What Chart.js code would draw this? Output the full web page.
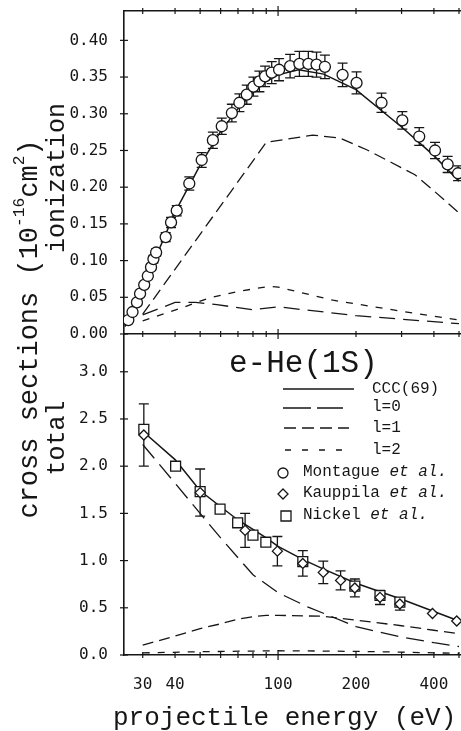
<!DOCTYPE html>
<html><head><meta charset="utf-8">
<script src="https://cdn.jsdelivr.net/npm/chart.js@4.4.1/dist/chart.umd.min.js"></script>
<style>
html,body{margin:0;padding:0;background:#fff;}
#wrap{position:relative;width:461px;height:731px;overflow:hidden;background:#fff;}
canvas{position:absolute;left:0;}
#cTop{top:0;}
#cBot{top:330px;}
.t{position:absolute;font-family:"Liberation Mono",monospace;color:#161616;white-space:nowrap;line-height:1;}
.rot{transform:translate(-50%,-50%) rotate(-90deg);}
.leg{font-size:16px;}
sup{font-size:60%;vertical-align:0.75em;line-height:0;}
</style></head>
<body><div id="wrap">
<canvas id="cTop" width="461" height="345"></canvas>
<canvas id="cBot" width="461" height="401"></canvas>
<div class="t rot" style="left:30px;top:329px;font-size:27px;">cross sections (10<sup>-16</sup>cm<sup>2</sup>)</div>
<div class="t rot" style="left:57px;top:178px;font-size:25px;">ionization</div>
<div class="t rot" style="left:57px;top:438px;font-size:25px;">total</div>
<div class="t" style="left:113px;top:705px;font-size:26px;">projectile energy (eV)</div>
<div class="t" style="left:229px;top:348px;font-size:31px;">e-He(1S)</div>
<div class="t leg" style="left:372px;top:381px;">CCC(69)</div>
<div class="t leg" style="left:372px;top:399px;">l=0</div>
<div class="t leg" style="left:372px;top:420px;">l=1</div>
<div class="t leg" style="left:372px;top:442px;">l=2</div>
<div class="t leg" style="left:303px;top:464px;">Montague <i>et al.</i></div>
<div class="t leg" style="left:303px;top:485px;">Kauppila <i>et al.</i></div>
<div class="t leg" style="left:303px;top:507px;">Nickel <i>et al.</i></div>
</div>
<script>
// ---------- tick values / labels ----------
const energyTicks = [30,40,50,60,70,80,90,100,200,300,400,500];
const energyLabels = [30,40,100,200,400];
const ionTicks = [0,0.05,0.10,0.15,0.20,0.25,0.30,0.35,0.40];
const ionTickLabels = ['0.00','0.05','0.10','0.15','0.20','0.25','0.30','0.35','0.40'];
const totTicks = [0,0.5,1.0,1.5,2.0,2.5,3.0];
const totTickLabels = ['0.0','0.5','1.0','1.5','2.0','2.5','3.0'];

// ---------- ionization panel ----------
const ionMontE = [26.4,27.4,28.5,29.3,30.4,31.4,32.3,33.0,33.8,36.8,38.6,40.6,45.4,50.7,56.0,60.6,66.3,70.9,75.7,80.3,84.7,89.1,94.5,100.9,111.3,120.9,130.9,140.8,151.7,177.5,201,251,302,351,404,452,496];
const ionMontV = [0.019,0.030,0.043,0.055,0.067,0.079,0.091,0.102,0.111,0.132,0.152,0.168,0.205,0.237,0.264,0.283,0.301,0.315,0.326,0.337,0.344,0.351,0.356,0.360,0.365,0.368,0.368,0.367,0.364,0.353,0.342,0.315,0.291,0.269,0.250,0.231,0.219];
const ionMontErr = [0.002,0.002,0.002,0.003,0.003,0.004,0.004,0.005,0.005,0.006,0.007,0.007,0.009,0.010,0.011,0.011,0.012,0.012,0.013,0.013,0.014,0.014,0.015,0.015,0.016,0.017,0.017,0.017,0.016,0.016,0.015,0.013,0.012,0.012,0.011,0.011,0.010];
const ionCccE = [25.6,30,40,50,60,70,80,90,100,120,150,200,300,400,500];
const ionCccV = [0.010,0.063,0.166,0.230,0.276,0.307,0.329,0.344,0.353,0.360,0.354,0.333,0.282,0.243,0.208];
const ionL0E = [30,40,48,58,80,100,200,500];
const ionL0V = [0.026,0.043,0.043,0.040,0.033,0.037,0.025,0.014];
const ionL1E = [30,90,136,173,220,338,400,500];
const ionL1V = [0.027,0.261,0.271,0.267,0.251,0.217,0.195,0.165];
const ionL2E = [30,42,54,70,93,100,163,300,500];
const ionL2V = [0.018,0.035,0.049,0.058,0.065,0.064,0.046,0.031,0.019];

// ---------- total panel ----------
const totCccE = [30,40,50,60,70,80,90,100,125,150,200,300,400,500];
const totCccV = [2.37,2.07,1.74,1.57,1.43,1.33,1.24,1.15,1.01,0.91,0.76,0.59,0.46,0.36];
const totL0E = [30,40,50,60,80,100,130,160,200,300,400,500];
const totL0V = [2.23,1.82,1.50,1.24,0.85,0.66,0.51,0.41,0.30,0.19,0.13,0.09];
const totL1E = [30,40,50,60,70,80,90,100,150,200,300,400,500];
const totL1V = [0.105,0.20,0.28,0.33,0.38,0.405,0.42,0.42,0.41,0.37,0.31,0.262,0.225];
const totL2E = [30,50,100,150,200,300,500];
const totL2V = [0.022,0.035,0.045,0.042,0.038,0.030,0.018];
const kaupE = [30.3,50,74.6,99.4,124.6,149.5,174.4,198,247.6,295.5,395,490];
const kaupV = [2.33,1.72,1.32,1.10,0.97,0.875,0.79,0.71,0.61,0.54,0.44,0.36];
const kaupErr = [0.33,0.25,0.18,0.155,0.135,0.12,0.10,0.095,0.075,0.065,0,0];
const nickE = [30.3,40.2,50,59.7,69.8,80,89.7,124.6,198,247.6,295.5];
const nickV = [2.39,2.00,1.73,1.545,1.40,1.27,1.195,0.99,0.73,0.63,0.56];

const X_MIN = 25.4, X_MAX = 509;
const INK = '#161616';
const pts = (xs, ys) => xs.map((x, i) => ({x, y: ys[i]}));
const noPad = s => { s.paddingTop = 0; s.paddingBottom = 0; s.paddingLeft = 0; s.paddingRight = 0; };

function curve(xs, ys, dash, w) {
  return {type:'line', data: pts(xs, ys), borderColor: INK, borderWidth: w || 1.3,
    borderDash: dash || [], pointRadius: 0, tension: 0, fill: false, order: 5};
}
function markers(xs, ys, style, r, errs) {
  return {type:'line', showLine:false, data: pts(xs, ys), pointStyle: style, pointRadius: r,
    pointBackgroundColor:'#fff', pointBorderColor: INK, pointBorderWidth: 1.3, errors: errs, order: 1};
}

function xAxis(labels, pos, h) {
  return {type:'logarithmic', min: X_MIN, max: X_MAX, position: pos,
    grid:{display:false, drawTicks:false},
    border:{display:true, color: INK, width:1.6},
    afterBuildTicks: s => { s.ticks = energyTicks.map(v => ({value: v})); },
    ticks:{display: labels, autoSkip:false, maxRotation:0, padding:20, color: INK,
      font:{family:'DejaVu Sans Mono', size:16},
      callback: v => energyLabels.includes(v) ? String(v) : ''},
    afterFit: s => { s.height = h; noPad(s); }};
}
function yAxis(max, ticks, labels) {
  return {type:'linear', min:0, max: max, position:'left',
    grid:{display:false, drawTicks:false},
    border:{display:true, color: INK, width:1.6},
    afterBuildTicks: s => { s.ticks = ticks.map(v => ({value: v})); },
    ticks:{padding:16, color: INK, font:{family:'DejaVu Sans Mono', size:16},
      callback: (v, i) => labels[i]},
    afterFit: s => { s.width = 124; noPad(s); }};
}

const tickMarks = {
  id:'tickMarks',
  afterDraw(chart, args, opts) {
    const ctx = chart.ctx, a = chart.chartArea;
    ctx.save(); ctx.strokeStyle = INK; ctx.lineWidth = 1.2;
    const xs = chart.scales.x;
    energyTicks.forEach(v => {
      const px = xs.getPixelForValue(v); const L = v === 100 ? 5 : 3;
      opts.edges.forEach(e => { const y = e === 'top' ? a.top : a.bottom;
        ctx.beginPath(); ctx.moveTo(px, y - L); ctx.lineTo(px, y + L); ctx.stroke(); });
    });
    const ys = chart.scales.y;
    ys.ticks.forEach(t => { const py = ys.getPixelForValue(t.value);
      ctx.beginPath(); ctx.moveTo(a.left - 4, py); ctx.lineTo(a.left + 4, py); ctx.stroke(); });
    ctx.restore();
  }
};
const errBars = {
  id:'errBars',
  beforeDatasetsDraw(chart) {
    const ctx = chart.ctx; ctx.save(); ctx.strokeStyle = INK; ctx.lineWidth = 1.3;
    chart.data.datasets.forEach((ds, i) => {
      if (!ds.errors) return;
      const meta = chart.getDatasetMeta(i);
      const xs = chart.scales[meta.xAxisID], ys = chart.scales[meta.yAxisID];
      ds.data.forEach((p, j) => {
        const e = ds.errors[j]; if (!e) return;
        const px = xs.getPixelForValue(p.x), y1 = ys.getPixelForValue(p.y + e), y0 = ys.getPixelForValue(p.y - e);
        ctx.beginPath(); ctx.moveTo(px, y0); ctx.lineTo(px, y1);
        ctx.moveTo(px - 5, y0); ctx.lineTo(px + 5, y0);
        ctx.moveTo(px - 5, y1); ctx.lineTo(px + 5, y1); ctx.stroke();
      });
    });
    ctx.restore();
  }
};
const legendSamples = {
  id:'legendSamples',
  afterDraw(chart) {
    const ctx = chart.ctx, off = 330; ctx.save(); ctx.strokeStyle = INK;
    const line = (x0, x1, y, dash, w) => { ctx.setLineDash(dash); ctx.lineWidth = w; ctx.beginPath();
      ctx.moveTo(x0, y - off); ctx.lineTo(x1, y - off); ctx.stroke(); };
    line(283, 354, 389, [], 1.5);
    line(283, 343, 408, [28, 6], 1.3);
    line(284, 349, 428, [12, 6], 1.3);
    line(285, 343, 450, [6, 11], 1.3);
    ctx.setLineDash([]); ctx.lineWidth = 1.3; ctx.fillStyle = '#fff';
    ctx.beginPath(); ctx.arc(283, 473 - off, 5, 0, Math.PI * 2); ctx.fill(); ctx.stroke();
    ctx.beginPath(); ctx.moveTo(283, 489 - off); ctx.lineTo(288, 494 - off); ctx.lineTo(283, 499 - off); ctx.lineTo(278, 494 - off); ctx.closePath(); ctx.fill(); ctx.stroke();
    ctx.beginPath(); ctx.rect(281, 511 - off, 10, 10); ctx.fill(); ctx.stroke();
    ctx.restore();
  }
};

new Chart(document.getElementById('cTop'), {
  data: {datasets: [
    markers(ionMontE, ionMontV, 'circle', 5.5, ionMontErr),
    curve(ionCccE, ionCccV, [], 1.5),
    curve(ionL0E, ionL0V, [16, 8]),
    curve(ionL1E, ionL1V, [12, 6]),
    curve(ionL2E, ionL2V, [7, 8])
  ]},
  options: {responsive:false, animation:false, events:[],
    layout:{autoPadding:false, padding:{top:11, left:0, right:0, bottom:0}},
    plugins:{legend:{display:false}, tooltip:{enabled:false}, tickMarks:{edges:['top','bottom']}},
    scales:{x: xAxis(false, 'bottom', 11), xt: xAxis(false, 'top', 0), y: yAxis(0.44, ionTicks, ionTickLabels)}},
  plugins:[tickMarks, errBars]
});

new Chart(document.getElementById('cBot'), {
  data: {datasets: [
    markers(kaupE, kaupV, 'rectRot', 5, kaupErr),
    markers(nickE, nickV, 'rect', 7, null),
    curve(totCccE, totCccV, [], 1.5),
    curve(totL0E, totL0V, [18, 8]),
    curve(totL1E, totL1V, [11, 6]),
    curve(totL2E, totL2V, [7, 8])
  ]},
  options: {responsive:false, animation:false, events:[],
    layout:{autoPadding:false, padding:{top:4, left:0, right:0, bottom:0}},
    plugins:{legend:{display:false}, tooltip:{enabled:false}, tickMarks:{edges:['bottom']}},
    scales:{x: xAxis(true, 'bottom', 76), y: yAxis(3.40, totTicks, totTickLabels)}},
  plugins:[tickMarks, errBars, legendSamples]
});
</script>
</body></html>
